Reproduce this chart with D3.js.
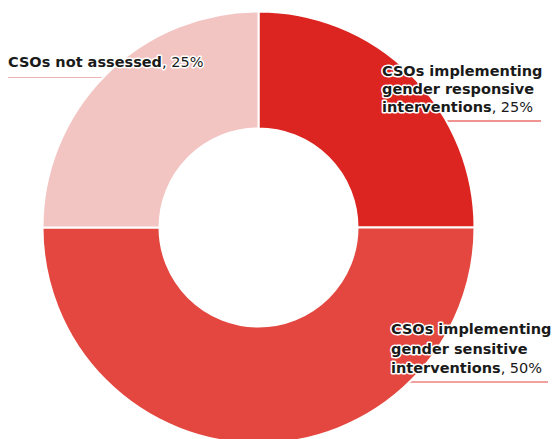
<!DOCTYPE html>
<html>
<head>
<meta charset="utf-8">
<script src="https://cdn.jsdelivr.net/npm/d3@7"></script>
<style>
  body { margin: 0; background: #fff; }
  svg text { font-family: "DejaVu Sans", sans-serif; }
</style>
</head>
<body>
<div id="viz"></div>
<script>
// data
var categories = ["CSOs implementing gender responsive interventions",
                  "CSOs implementing gender sensitive interventions",
                  "CSOs not assessed"];
var values = [25, 50, 25];
var labelLines = [["CSOs implementing", "gender responsive", "interventions"],
                  ["CSOs implementing", "gender sensitive", "interventions"],
                  ["CSOs not assessed"]];

var colors = ["#DC2520", "#E3473F", "#F2C4C2"];
var lineColors = ["#E02A25", "#E3473F", "#EBB5B3"];

var width = 560, height = 439;
var cx = 258.5, cy = 227.5;
var outerR = 216, innerR = 99;

// label placement (x, first baseline, line step, leader line y and outer end)
var labelPos = [
  {x: 382, y: 75.5, step: 18, lineY: 121, lineX2: 541},
  {x: 391, y: 334, step: 19.5, lineY: 382, lineX2: 548},
  {x: 8, y: 67, step: 18, lineY: 77.5, lineX2: 8}
];

var data = categories.map(function(c, i) {
  return {name: c, value: values[i], lines: labelLines[i], color: colors[i], lineColor: lineColors[i], pos: labelPos[i]};
});

const svg = d3.select("#viz")
              .append("svg")
              .attr("width", width)
              .attr("height", height);

var pie = d3.pie().sort(null).value(function(d) { return d.value; });
var arc = d3.arc().innerRadius(innerR).outerRadius(outerR);
var arcs = pie(data);

// leader lines go under the slices, from the ring edge out to the label
svg.selectAll(".leader")
   .data(arcs)
   .enter()
   .append("line")
   .attr("class", "leader")
   .attr("x1", function(d) {
     var p = d.data.pos;
     var dx = Math.sqrt(outerR * outerR - (p.lineY - cy) * (p.lineY - cy));
     var mid = (d.startAngle + d.endAngle) / 2;
     return Math.sin(mid) > 0 ? cx + dx : cx - dx;
   })
   .attr("x2", function(d) { return d.data.pos.lineX2; })
   .attr("y1", function(d) { return d.data.pos.lineY; })
   .attr("y2", function(d) { return d.data.pos.lineY; })
   .attr("stroke", function(d) { return d.data.lineColor; })
   .attr("stroke-width", 1.2);

var g = svg.append("g")
           .attr("transform", "translate(" + cx + "," + cy + ")");

g.selectAll(".slice")
 .data(arcs)
 .enter()
 .append("path")
 .attr("class", "slice")
 .attr("d", arc)
 .attr("fill", function(d) { return d.data.color; })
 .attr("stroke", "#fff")
 .attr("stroke-width", 2);

// labels with a white halo, one text per line
arcs.forEach(function(d) {
  var p = d.data.pos;
  d.data.lines.forEach(function(line, i) {
    var t = svg.append("text")
               .attr("class", "lbl")
               .attr("x", p.x)
               .attr("y", p.y + i * p.step)
               .attr("font-size", "14.5px")
               .attr("fill", "#1a1a1a")
               .attr("stroke", "#fff")
               .attr("stroke-width", 3)
               .attr("stroke-linejoin", "round")
               .attr("paint-order", "stroke");
    t.append("tspan")
     .attr("font-weight", "bold")
     .text(line);
    if (i == d.data.lines.length - 1) {
      t.append("tspan")
       .attr("font-weight", "normal")
       .text(", " + d.data.value + "%");
    }
  });
});
</script>
</body>
</html>
